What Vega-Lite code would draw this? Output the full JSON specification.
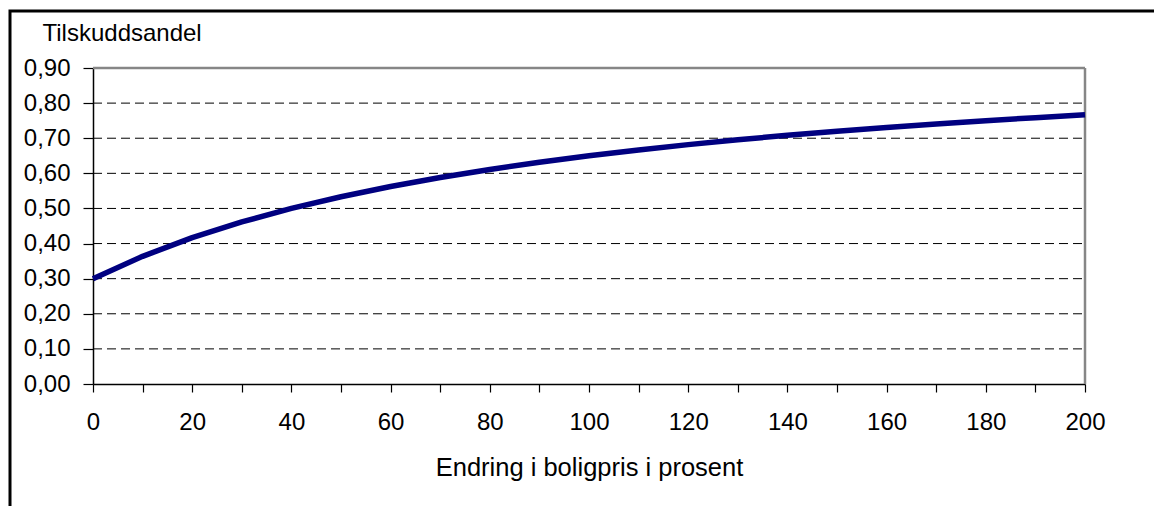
{
  "$schema": "https://vega.github.io/schema/vega-lite/v6.json",
  "autosize": "none",
  "width": 1150,
  "height": 500,
  "padding": {"left": 10, "top": 11, "right": 0, "bottom": 0},
  "background": "#ffffff",
  "config": {
    "view": {"stroke": "#000000", "strokeWidth": 3},
    "font": "Liberation Sans"
  },
  "datasets": {
    "curve": [
      {"endring": 0, "andel": 0.3},
      {"endring": 10, "andel": 0.3636},
      {"endring": 20, "andel": 0.4167},
      {"endring": 30, "andel": 0.4615},
      {"endring": 40, "andel": 0.5},
      {"endring": 50, "andel": 0.5333},
      {"endring": 60, "andel": 0.5625},
      {"endring": 70, "andel": 0.5882},
      {"endring": 80, "andel": 0.6111},
      {"endring": 90, "andel": 0.6316},
      {"endring": 100, "andel": 0.65},
      {"endring": 110, "andel": 0.6667},
      {"endring": 120, "andel": 0.6818},
      {"endring": 130, "andel": 0.6957},
      {"endring": 140, "andel": 0.7083},
      {"endring": 150, "andel": 0.72},
      {"endring": 160, "andel": 0.7308},
      {"endring": 170, "andel": 0.7407},
      {"endring": 180, "andel": 0.75},
      {"endring": 190, "andel": 0.7586},
      {"endring": 200, "andel": 0.7667}
    ],
    "grid": [
      {"andel": 0.1}, {"andel": 0.2}, {"andel": 0.3}, {"andel": 0.4},
      {"andel": 0.5}, {"andel": 0.6}, {"andel": 0.7}, {"andel": 0.8}
    ],
    "top": [{"andel": 0.9}],
    "right": [{"endring": 200}]
  },
  "layer": [
    {
      "data": {"name": "grid"},
      "mark": {"type": "rule", "stroke": "#000000", "strokeWidth": 1, "strokeDash": [9, 5]},
      "encoding": {
        "y": {"field": "andel", "type": "quantitative", "scale": {"domain": [0, 0.9], "range": [373, 57], "nice": false, "zero": false}},
        "x": {"datum": 0, "type": "quantitative", "scale": {"domain": [0, 200], "range": [83, 1075], "nice": false}},
        "x2": {"datum": 200}
      }
    },
    {
      "data": {"name": "top"},
      "mark": {"type": "rule", "stroke": "#868686", "strokeWidth": 2.5},
      "encoding": {
        "y": {"field": "andel", "type": "quantitative"},
        "x": {"datum": 0, "type": "quantitative"},
        "x2": {"datum": 200}
      }
    },
    {
      "data": {"name": "right"},
      "mark": {"type": "rule", "stroke": "#868686", "strokeWidth": 2.5},
      "encoding": {
        "x": {"field": "endring", "type": "quantitative"},
        "y": {"datum": 0, "type": "quantitative"},
        "y2": {"datum": 0.9}
      }
    },
    {
      "data": {"name": "curve"},
      "mark": {"type": "line", "stroke": "#000080", "strokeWidth": 5.5, "strokeJoin": "round", "strokeCap": "butt"},
      "encoding": {
        "x": {
          "field": "endring", "type": "quantitative",
          "axis": {
            "orient": "bottom",
            "offset": -127,
            "values": [0,10,20,30,40,50,60,70,80,90,100,110,120,130,140,150,160,170,180,190,200],
            "labelExpr": "datum.value % 20 == 0 ? datum.label : ''",
            "labelOverlap": false,
            "labelFlush": false,
            "grid": false,
            "domainColor": "#000000",
            "domainWidth": 1.5,
            "tickColor": "#000000",
            "tickWidth": 1.2,
            "tickSize": 8,
            "labelPadding": 18,
            "labelFont": "Liberation Sans",
            "labelFontSize": 24,
            "labelColor": "#000000",
            "title": "Endring i boligpris i prosent",
            "titleFont": "Liberation Sans",
            "titleFontSize": 25.5,
            "titleFontWeight": "normal",
            "titleColor": "#000000",
            "titleBaseline": "alphabetic",
            "titleY": 91
          }
        },
        "y": {
          "field": "andel", "type": "quantitative",
          "axis": {
            "orient": "left",
            "offset": -83,
            "values": [0, 0.1, 0.2, 0.3, 0.4, 0.5, 0.6, 0.7, 0.8, 0.9],
            "labelExpr": "replace(format(datum.value, '.2f'), '.', ',')",
            "labelOverlap": false,
            "labelFlush": false,
            "grid": false,
            "domainColor": "#000000",
            "domainWidth": 1.5,
            "tickColor": "#000000",
            "tickWidth": 1.2,
            "tickSize": 10,
            "labelPadding": 13,
            "labelFont": "Liberation Sans",
            "labelFontSize": 24,
            "labelColor": "#000000",
            "title": "Tilskuddsandel",
            "titleAngle": 0,
            "titleAlign": "left",
            "titleBaseline": "alphabetic",
            "titleX": -51,
            "titleY": 29,
            "titleFont": "Liberation Sans",
            "titleFontSize": 24,
            "titleFontWeight": "normal",
            "titleColor": "#000000"
          }
        }
      }
    }
  ]
}
